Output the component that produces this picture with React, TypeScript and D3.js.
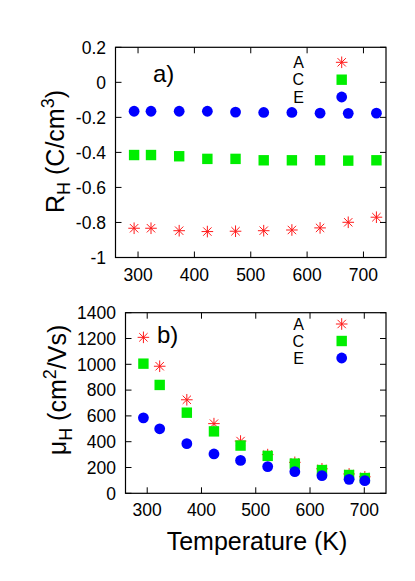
import React from "react";
import * as d3 from "d3";

const tempA = [293, 323, 373, 423, 473, 523, 573, 623, 673, 723];
const rhA = [-0.833, -0.833, -0.847, -0.852, -0.85, -0.847, -0.843, -0.831, -0.799, -0.77];
const rhC = [-0.415, -0.415, -0.422, -0.437, -0.437, -0.445, -0.445, -0.445, -0.447, -0.445];
const rhE = [-0.165, -0.165, -0.165, -0.165, -0.17, -0.172, -0.172, -0.176, -0.177, -0.176];

const tempB = [293, 323, 373, 423, 472, 522, 572, 622, 672, 701];
const muA = [1209, 985, 725, 540, 405, 300, 240, 190, 150, 128];
const muC = [1005, 840, 625, 480, 370, 290, 230, 180, 142, 118];
const muE = [585, 500, 385, 305, 255, 207, 168, 137, 108, 98];

const xTicks = [300, 400, 500, 600, 700];
const yTicksA = [0.2, 0, -0.2, -0.4, -0.6, -0.8, -1];
const yTickLabelsA = ["0.2", "0", "-0.2", "-0.4", "-0.6", "-0.8", "-1"];
const yTicksB = [0, 200, 400, 600, 800, 1000, 1200, 1400];
const yTickLabelsB = ["0", "200", "400", "600", "800", "1000", "1200", "1400"];
const seriesNames = ["A", "C", "E"];

const FONT = "'Liberation Sans', Arial, Helvetica, sans-serif";
const RED = "#ff1a1a";
const GREEN = "#00ee00";
const BLUE = "#0000ff";

function Star({ x, y }: { x: number; y: number }) {
  const r = 5.8;
  const d = r * 0.72;
  const p = `M${x - r},${y}L${x + r},${y}M${x},${y - r}L${x},${y + r}M${x - d},${y - d}L${x + d},${y + d}M${x - d},${y + d}L${x + d},${y - d}`;
  return <path d={p} stroke={RED} strokeWidth={1} fill="none" />;
}
function Sq({ x, y }: { x: number; y: number }) {
  const s = 10.4;
  return <rect x={x - s / 2} y={y - s / 2} width={s} height={s} fill={GREEN} />;
}
function Dot({ x, y }: { x: number; y: number }) {
  return <circle cx={x} cy={y} r={5.4} fill={BLUE} />;
}

type PanelProps = {
  left: number; right: number; top: number; bottom: number;
  yDomain: [number, number]; yTicks: number[]; yLabels: string[];
  xs: number[]; a: number[]; c: number[]; e: number[];
  tag: string; tagX: number; tagY: number;
  legendY: number[];
};

function Panel(p: PanelProps) {
  const x = d3.scaleLinear().domain([260, 740]).range([p.left, p.right]);
  const y = d3.scaleLinear().domain(p.yDomain).range([p.bottom, p.top]);
  const tl = 6;
  return (
    <g>
      {p.xs.map((t, i) => <Star key={"a" + i} x={x(t)} y={y(p.a[i])} />)}
      {p.xs.map((t, i) => <Sq key={"c" + i} x={x(t)} y={y(p.c[i])} />)}
      {p.xs.map((t, i) => <Dot key={"e" + i} x={x(t)} y={y(p.e[i])} />)}
      <rect x={p.left} y={p.top} width={p.right - p.left} height={p.bottom - p.top} fill="none" stroke="#000" strokeWidth={1.2} />
      {xTicks.map((t) => (
        <g key={"xt" + t}>
          <line x1={x(t)} x2={x(t)} y1={p.bottom} y2={p.bottom - tl} stroke="#000" />
          <line x1={x(t)} x2={x(t)} y1={p.top} y2={p.top + tl} stroke="#000" />
          <text x={x(t)} y={p.bottom + 23} textAnchor="middle" fontSize={17.5} fontFamily={FONT}>{t}</text>
        </g>
      ))}
      {p.yTicks.map((t, i) => (
        <g key={"yt" + i}>
          <line x1={p.left} x2={p.left + tl} y1={y(t)} y2={y(t)} stroke="#000" />
          <line x1={p.right} x2={p.right - tl} y1={y(t)} y2={y(t)} stroke="#000" />
          <text x={p.left - 9.5} y={y(t)} dy="0.36em" textAnchor="end" fontSize={17.5} fontFamily={FONT}>{p.yLabels[i]}</text>
        </g>
      ))}
      <text x={p.tagX} y={p.tagY} fontSize={24} fontFamily={FONT}>{p.tag}</text>
      {seriesNames.map((n, i) => (
        <text key={"ln" + n} x={304} y={p.legendY[i]} dy="0.36em" textAnchor="end" fontSize={16} fontFamily={FONT}>{n}</text>
      ))}
      <Star x={341.7} y={p.legendY[0]} />
      <Sq x={341.7} y={p.legendY[1]} />
      <Dot x={341.7} y={p.legendY[2]} />
    </g>
  );
}

export default function App() {
  return (
    <svg width={415} height={581} style={{ position: "absolute", left: 0, top: 0, background: "#fff" }}>
      <Panel left={115.5} right={386} top={47.3} bottom={257.5} yDomain={[-1, 0.2]}
        yTicks={yTicksA} yLabels={yTickLabelsA} xs={tempA} a={rhA} c={rhC} e={rhE}
        tag="a)" tagX={153} tagY={82} legendY={[62.3, 79.7, 97]} />
      <Panel left={125.5} right={386} top={312.7} bottom={493.3} yDomain={[0, 1400]}
        yTicks={yTicksB} yLabels={yTickLabelsB} xs={tempB} a={muA} c={muC} e={muE}
        tag="b)" tagX={157} tagY={343} legendY={[324, 341, 358]} />
      <g transform="translate(64,151.5) rotate(-90)">
        <text textAnchor="middle" fontSize={25} fontFamily={FONT}>
          R<tspan fontSize={18} dy={6}>H</tspan><tspan dy={-6}> (C/cm</tspan><tspan fontSize={18} dy={-10}>3</tspan><tspan dy={10}>)</tspan>
        </text>
      </g>
      <g transform="translate(66,390) rotate(-90)">
        <text textAnchor="middle" fontSize={25} fontFamily={FONT}>
          μ<tspan fontSize={18} dy={6}>H</tspan><tspan dy={-6}> (cm</tspan><tspan fontSize={18} dy={-10}>2</tspan><tspan dy={10}>/Vs)</tspan>
        </text>
      </g>
      <text x={257} y={550} textAnchor="middle" fontSize={25} fontFamily={FONT}>Temperature (K)</text>
    </svg>
  );
}
